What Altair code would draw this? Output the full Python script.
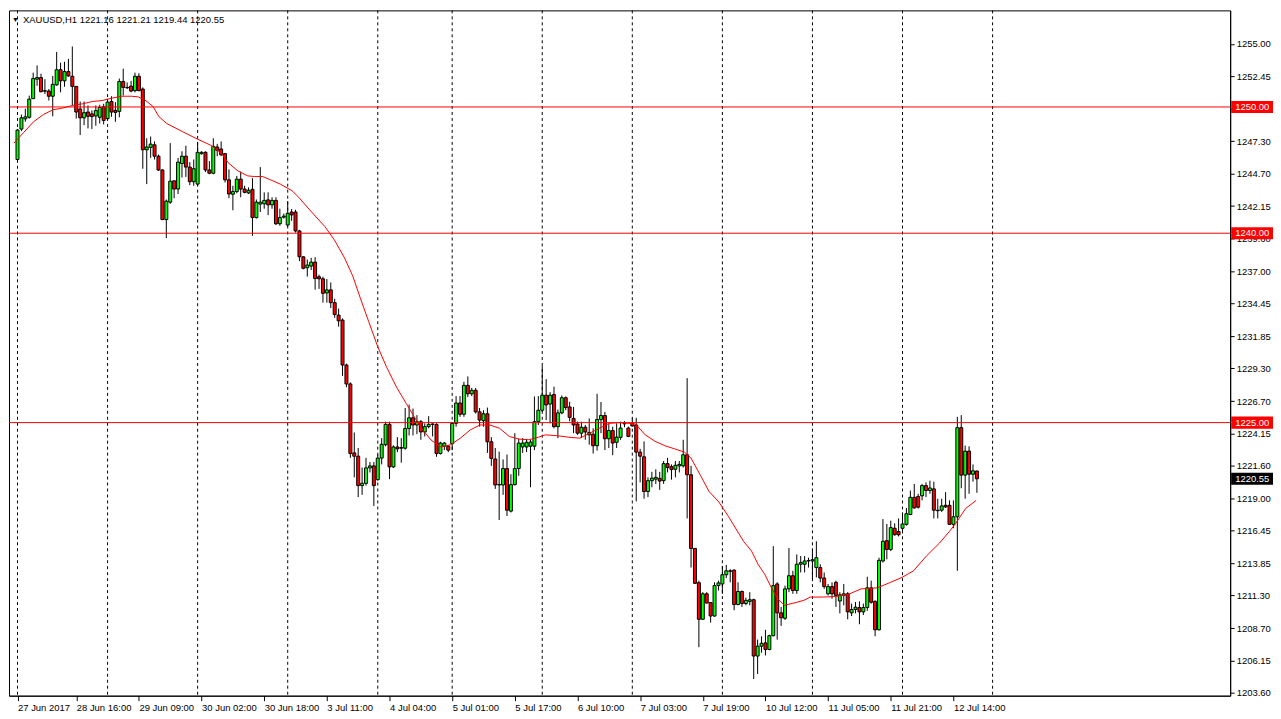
import altair as alt
import pandas as pd

# ---------------- data ----------------
opens = [
    1245.84, 1248.25, 1249.06, 1249.18, 1250.66, 1252.20, 1252.33, 1251.25, 1251.26, 1250.85,
    1251.75, 1252.95, 1252.07, 1252.80, 1252.43, 1251.63, 1249.84, 1249.14, 1249.60, 1249.45,
    1249.29, 1249.18, 1250.02, 1249.08, 1250.43, 1249.73, 1249.65, 1252.02, 1251.55, 1251.65,
    1251.29, 1252.43, 1251.42, 1246.61, 1246.80, 1247.00, 1246.10, 1245.01, 1241.08, 1242.46,
    1244.15, 1243.50, 1245.52, 1246.10, 1245.24, 1244.08, 1243.89, 1246.30, 1246.41, 1245.01,
    1244.75, 1246.83, 1246.67, 1246.30, 1244.23, 1243.09, 1243.30, 1244.28, 1243.50, 1243.19,
    1243.48, 1241.24, 1242.31, 1242.33, 1242.64, 1242.25, 1242.60, 1240.75, 1241.27, 1240.65,
    1241.68, 1241.68, 1240.18, 1238.13, 1237.27, 1237.40, 1237.71, 1236.55, 1236.39, 1235.27,
    1235.51, 1234.50, 1233.51, 1233.12, 1229.56, 1228.06, 1222.60, 1222.34, 1220.01, 1220.19,
    1221.41, 1221.57, 1220.48, 1222.19, 1223.25, 1224.86, 1221.49, 1223.07, 1222.97, 1222.97,
    1224.53, 1225.38, 1224.81, 1225.07, 1224.26, 1224.68, 1224.86, 1224.86, 1222.55, 1223.13,
    1223.13, 1223.33, 1224.94, 1226.55, 1225.66, 1227.95, 1227.28, 1227.56, 1225.85, 1225.15,
    1225.70, 1223.48, 1222.12, 1220.06, 1220.06, 1221.36, 1217.99, 1220.09, 1221.36, 1223.07,
    1223.07, 1223.13, 1223.13, 1225.07, 1225.98, 1227.17, 1226.47, 1227.22, 1224.68, 1225.77,
    1226.97, 1226.24, 1225.33, 1224.89, 1224.16, 1224.63, 1224.03, 1224.08, 1223.17, 1225.25,
    1225.56, 1223.72, 1224.37, 1223.44, 1223.83, 1224.90, 1224.57, 1224.94, 1224.81, 1222.66,
    1222.29, 1219.54, 1220.40, 1220.52, 1220.58, 1220.40, 1221.75, 1221.51, 1221.30, 1221.57,
    1221.57, 1222.45, 1220.87, 1215.03, 1212.32, 1209.42, 1211.44, 1210.74, 1209.68, 1212.09,
    1212.22, 1212.95, 1213.26, 1213.31, 1210.59, 1211.62, 1210.67, 1210.84, 1210.97, 1206.51,
    1207.29, 1207.55, 1207.03, 1208.12, 1212.22, 1209.93, 1209.50, 1211.83, 1212.87, 1211.70,
    1213.78, 1213.78, 1214.04, 1214.04, 1213.52, 1213.52, 1212.69, 1211.44, 1212.01, 1212.35,
    1210.87, 1211.31, 1211.44, 1209.93, 1210.20, 1210.35, 1210.01, 1210.35, 1211.91, 1210.84,
    1208.59, 1214.04, 1215.65, 1214.95, 1216.63, 1216.37, 1216.63, 1216.94, 1217.72, 1219.08,
    1219.15, 1219.20, 1220.01, 1219.62, 1219.75, 1218.06, 1218.06, 1218.45, 1218.45, 1216.94,
    1217.54, 1224.60, 1220.84, 1222.74, 1220.91, 1221.16,
]
highs = [
    1248.25, 1249.40, 1249.86, 1250.90, 1252.72, 1253.29, 1252.64, 1252.20, 1251.42, 1252.46,
    1254.36, 1253.50, 1253.58, 1253.81, 1254.79, 1251.65, 1250.43, 1250.43, 1250.12, 1249.73,
    1250.12, 1250.17, 1250.25, 1250.64, 1250.85, 1250.38, 1252.25, 1253.03, 1251.94, 1252.07,
    1252.72, 1252.67, 1251.55, 1247.52, 1247.66, 1247.27, 1246.23, 1245.06, 1242.67, 1247.14,
    1244.15, 1245.97, 1246.49, 1246.93, 1245.63, 1245.84, 1247.19, 1246.49, 1246.49, 1245.71,
    1247.52, 1247.08, 1247.27, 1246.36, 1245.06, 1243.76, 1244.54, 1244.88, 1243.76, 1243.63,
    1244.36, 1242.67, 1245.24, 1243.24, 1243.24, 1242.85, 1242.85, 1241.94, 1241.55, 1242.54,
    1241.92, 1241.86, 1240.26, 1238.18, 1237.92, 1238.05, 1238.10, 1236.72, 1236.55, 1236.37,
    1236.10, 1234.81, 1234.03, 1233.25, 1229.67, 1228.19, 1224.22, 1222.99, 1221.44, 1222.21,
    1221.88, 1221.88, 1222.47, 1223.77, 1225.07, 1225.07, 1223.20, 1223.85, 1223.77, 1226.16,
    1226.42, 1226.11, 1225.59, 1225.20, 1224.94, 1225.51, 1224.94, 1224.94, 1223.48, 1223.46,
    1223.18, 1225.02, 1227.10, 1227.10, 1228.23, 1228.66, 1227.74, 1227.74, 1226.16, 1225.98,
    1226.19, 1223.85, 1222.99, 1222.70, 1222.08, 1222.47, 1220.91, 1224.16, 1223.72, 1223.77,
    1223.69, 1223.64, 1227.07, 1227.10, 1229.48, 1228.44, 1227.41, 1227.85, 1226.03, 1227.15,
    1227.07, 1226.65, 1226.24, 1225.07, 1225.07, 1224.81, 1225.33, 1224.55, 1227.28, 1226.63,
    1225.85, 1224.94, 1224.68, 1224.94, 1225.07, 1225.12, 1224.68, 1225.33, 1225.38, 1222.92,
    1223.51, 1220.66, 1221.10, 1221.30, 1221.10, 1221.96, 1222.21, 1221.69, 1221.96, 1221.96,
    1223.64, 1228.52, 1221.57, 1215.08, 1212.48, 1211.57, 1211.57, 1210.79, 1212.35, 1212.48,
    1213.65, 1213.73, 1213.39, 1213.39, 1212.35, 1211.70, 1211.13, 1211.57, 1211.05, 1207.81,
    1208.07, 1208.59, 1208.20, 1215.21, 1212.35, 1210.40, 1212.09, 1215.07, 1213.26, 1214.56,
    1214.43, 1214.43, 1214.30, 1214.95, 1215.60, 1213.78, 1213.13, 1212.22, 1212.35, 1212.48,
    1211.57, 1212.22, 1211.57, 1210.66, 1210.79, 1210.84, 1210.66, 1212.79, 1212.48, 1210.92,
    1214.30, 1217.36, 1216.97, 1217.23, 1217.02, 1217.41, 1217.80, 1218.24, 1219.62, 1220.14,
    1219.36, 1220.14, 1220.27, 1220.40, 1220.32, 1218.97, 1218.97, 1219.49, 1218.84, 1218.84,
    1225.46, 1225.59, 1223.17, 1223.12, 1221.69, 1221.21,
]
lows = [
    1245.66, 1248.09, 1248.83, 1249.08, 1250.64, 1251.68, 1251.16, 1251.03, 1250.51, 1249.26,
    1251.68, 1251.16, 1251.60, 1252.40, 1250.12, 1249.08, 1247.78, 1248.56, 1248.30, 1248.25,
    1248.51, 1248.69, 1248.62, 1248.95, 1249.22, 1248.83, 1249.18, 1250.90, 1251.42, 1251.16,
    1251.16, 1251.25, 1245.11, 1243.89, 1245.97, 1245.84, 1244.93, 1241.04, 1239.61, 1242.33,
    1242.77, 1243.11, 1244.41, 1244.46, 1243.81, 1243.76, 1243.76, 1246.23, 1244.85, 1244.67,
    1244.67, 1246.10, 1246.10, 1244.02, 1242.77, 1241.82, 1243.16, 1242.85, 1243.16, 1243.11,
    1239.79, 1241.16, 1241.68, 1241.94, 1241.43, 1241.94, 1240.65, 1240.59, 1241.16, 1240.52,
    1240.98, 1240.05, 1237.79, 1237.14, 1236.57, 1237.09, 1235.53, 1235.59, 1234.50, 1234.50,
    1234.08, 1233.30, 1232.60, 1228.70, 1227.80, 1222.21, 1220.66, 1219.10, 1219.28, 1220.01,
    1221.05, 1218.40, 1220.40, 1221.69, 1223.12, 1220.52, 1221.41, 1222.66, 1221.82, 1222.86,
    1223.98, 1223.98, 1224.08, 1223.64, 1223.90, 1224.55, 1223.90, 1222.29, 1222.47, 1222.82,
    1222.66, 1222.82, 1224.68, 1225.46, 1225.46, 1227.02, 1227.10, 1225.72, 1224.68, 1224.68,
    1222.60, 1221.57, 1219.75, 1217.28, 1219.28, 1217.60, 1217.88, 1220.01, 1220.79, 1222.60,
    1222.66, 1219.88, 1222.82, 1224.81, 1225.85, 1225.20, 1224.94, 1224.55, 1223.77, 1225.66,
    1225.98, 1225.10, 1224.16, 1224.03, 1223.77, 1223.64, 1223.25, 1222.55, 1222.78, 1224.16,
    1222.82, 1222.99, 1222.42, 1222.99, 1223.64, 1224.63, 1223.85, 1224.68, 1218.76, 1220.27,
    1218.97, 1219.10, 1219.88, 1220.14, 1219.67, 1220.14, 1221.05, 1220.48, 1220.66, 1221.05,
    1221.44, 1217.41, 1213.52, 1212.22, 1207.21, 1209.37, 1210.67, 1209.16, 1209.62, 1211.70,
    1211.44, 1212.69, 1212.35, 1210.14, 1210.53, 1210.40, 1210.53, 1210.53, 1204.69, 1205.08,
    1206.77, 1206.56, 1206.97, 1208.07, 1207.81, 1208.90, 1209.37, 1211.57, 1211.44, 1211.44,
    1213.13, 1213.13, 1213.52, 1212.61, 1212.74, 1212.35, 1211.83, 1211.31, 1211.05, 1210.40,
    1209.89, 1210.53, 1209.42, 1209.68, 1209.89, 1209.03, 1209.76, 1210.09, 1210.66, 1208.07,
    1208.53, 1213.91, 1214.17, 1214.82, 1216.04, 1215.98, 1216.24, 1216.84, 1217.67, 1218.19,
    1218.19, 1218.84, 1219.10, 1219.36, 1217.41, 1217.41, 1217.93, 1218.24, 1216.94, 1216.63,
    1213.26, 1219.80, 1218.97, 1219.36, 1220.32, 1219.44,
]
closes = [
    1248.17, 1249.14, 1249.22, 1250.62, 1252.25, 1252.33, 1251.21, 1251.29, 1250.85, 1251.79,
    1252.95, 1252.07, 1252.80, 1252.46, 1251.63, 1249.60, 1249.14, 1249.55, 1249.26, 1249.24,
    1249.71, 1249.96, 1248.93, 1250.38, 1249.60, 1249.57, 1252.02, 1251.55, 1251.52, 1251.26,
    1252.43, 1251.29, 1246.61, 1246.83, 1247.06, 1246.10, 1245.01, 1241.08, 1242.54, 1244.12,
    1243.50, 1245.63, 1246.10, 1245.24, 1244.08, 1245.11, 1246.41, 1246.41, 1245.01, 1244.75,
    1246.88, 1246.57, 1246.22, 1244.23, 1243.11, 1243.30, 1244.28, 1243.50, 1243.24, 1243.40,
    1241.24, 1242.46, 1242.46, 1242.60, 1242.25, 1242.60, 1240.75, 1241.24, 1241.35, 1241.58,
    1241.45, 1240.18, 1238.13, 1237.22, 1237.48, 1237.71, 1236.41, 1236.39, 1235.24, 1235.51,
    1234.50, 1233.56, 1233.06, 1229.56, 1228.06, 1222.55, 1222.34, 1220.01, 1220.19, 1221.41,
    1221.57, 1220.01, 1222.19, 1223.28, 1224.86, 1221.49, 1223.07, 1222.92, 1223.02, 1224.53,
    1225.38, 1224.81, 1225.07, 1224.26, 1224.68, 1224.86, 1224.89, 1222.55, 1223.38, 1223.38,
    1222.82, 1224.94, 1226.55, 1225.66, 1227.95, 1227.28, 1227.56, 1225.85, 1225.20, 1225.70,
    1223.48, 1222.16, 1220.06, 1220.10, 1221.36, 1218.06, 1220.09, 1221.36, 1223.38, 1223.38,
    1223.44, 1223.46, 1225.07, 1225.98, 1227.17, 1226.40, 1227.17, 1224.68, 1225.77, 1226.97,
    1226.19, 1225.41, 1224.81, 1224.16, 1224.63, 1224.26, 1224.22, 1223.17, 1225.25, 1225.56,
    1223.72, 1224.37, 1223.38, 1223.85, 1224.57, 1224.94, 1223.90, 1224.73, 1222.66, 1222.34,
    1219.54, 1220.40, 1220.60, 1220.66, 1220.37, 1221.75, 1221.44, 1221.28, 1221.62, 1221.69,
    1222.45, 1220.87, 1215.03, 1212.27, 1209.42, 1211.44, 1210.71, 1209.68, 1212.09, 1212.30,
    1212.95, 1213.26, 1213.22, 1210.59, 1211.62, 1210.67, 1210.92, 1210.97, 1206.51, 1207.29,
    1207.52, 1207.03, 1208.12, 1212.09, 1209.93, 1209.54, 1211.83, 1212.87, 1211.70, 1213.78,
    1213.91, 1214.04, 1214.08, 1214.14, 1214.30, 1212.69, 1212.01, 1212.01, 1211.44, 1211.31,
    1211.36, 1211.44, 1210.01, 1210.20, 1210.38, 1210.01, 1210.35, 1211.91, 1210.77, 1208.59,
    1214.09, 1215.60, 1214.95, 1216.68, 1216.12, 1216.12, 1216.97, 1217.78, 1219.08, 1218.24,
    1218.30, 1220.01, 1219.62, 1219.82, 1218.06, 1218.02, 1218.40, 1218.32, 1216.94, 1217.54,
    1224.60, 1220.84, 1222.74, 1220.91, 1221.18, 1220.55,
]

# moving average (red curve), read at bar positions
ma_idx = [-0.9, 1.6, 4.1, 6.6, 9.1, 11.6, 14.1, 16.6, 19.1, 21.6, 24.1, 26.6, 29.1, 30.8, 32.5,
          34.6, 36.1, 38.1, 42.1, 45.5, 49.6, 52.1, 53.8, 56.3, 58.8, 60.5, 62.6, 64.6, 67.1, 70.1,
          71.8, 75.1, 78.5, 80.9, 83.5, 85.6, 87.6, 89.7, 91.95, 94.3, 96.8, 99.3, 101.8, 103.5,
          105.6, 108.1, 110.6, 113.1, 115.6, 118.1, 120.6, 123.1, 125.6, 128.1, 130.6, 133.1,
          134.8, 138.1, 141.1, 143.6, 146.1, 148.6, 151.1, 153.6, 156.1, 157.8, 160.3, 162.8,
          165.3, 167.8, 170.3, 171.95, 174.45, 176.6, 179.1, 181.6, 185.4, 187.45, 189.1, 190.8,
          192.45, 194.1, 195.8, 198.3, 200.8, 202.45, 205.8, 209.1, 212.1, 215.45, 219.6, 222.95,
          225.9, 228.8, 232.1, 235.45, 237.95, 239.6, 242.1, 244.8]
ma_val = [1247.14, 1247.99, 1248.83, 1249.40, 1249.78, 1249.92, 1250.12, 1250.25, 1250.43, 1250.51,
          1250.70, 1250.85, 1250.85, 1250.80, 1250.56, 1250.04, 1249.24, 1248.69, 1248.05, 1247.52,
          1246.93, 1246.30, 1245.58, 1244.93, 1244.54, 1244.49, 1244.49, 1244.23, 1243.89, 1243.37,
          1242.85, 1241.68, 1240.52, 1239.48, 1238.05, 1236.62, 1234.81, 1232.99, 1231.04, 1229.36,
          1227.80, 1226.50, 1225.20, 1224.42, 1223.62, 1223.07, 1223.25, 1223.77, 1224.42, 1224.81,
          1224.81, 1224.55, 1223.90, 1223.69, 1223.64, 1223.85, 1224.03, 1223.95, 1223.83, 1223.77,
          1224.16, 1224.55, 1224.94, 1225.00, 1224.94, 1224.89, 1224.03, 1223.52, 1223.17, 1222.92,
          1222.66, 1222.21, 1220.79, 1219.54, 1218.71, 1217.54, 1215.60, 1214.82, 1213.78, 1213.00,
          1211.96, 1211.05, 1210.53, 1210.71, 1210.92, 1211.18, 1211.18, 1211.23, 1211.39, 1211.83,
          1211.91, 1212.35, 1212.74, 1213.26, 1214.43, 1215.46, 1216.37, 1217.02, 1218.19, 1218.84]

grid_idx = [0, 23, 46, 69, 92, 111, 134, 157, 180, 203, 226, 249]
level_prices = [1250.00, 1240.00, 1225.00]
last_price = 1220.55

xtick_idx = [0, 15, 31, 47, 63, 79, 95, 111, 127, 143, 159, 175, 191, 207, 223, 239]
xtick_labels = ["27 Jun 2017", "28 Jun 16:00", "29 Jun 09:00", "30 Jun 02:00", "30 Jun 18:00",
                "3 Jul 11:00", "4 Jul 04:00", "5 Jul 01:00", "5 Jul 17:00", "6 Jul 10:00",
                "7 Jul 03:00", "7 Jul 19:00", "10 Jul 12:00", "11 Jul 05:00", "11 Jul 21:00",
                "12 Jul 14:00"]
ytick_values = [1203.60, 1206.15, 1208.70, 1211.30, 1213.85, 1216.45, 1219.00, 1221.60, 1224.15,
                1226.70, 1229.30, 1231.85, 1234.45, 1237.00, 1239.60, 1242.15, 1244.70, 1247.30,
                1249.85, 1252.45, 1255.00]

symbol_name = "XAUUSD,H1"

# ---------------- chart ----------------
W, H = 1226, 688
FONT = "Liberation Sans"
FS = 9.5

n = len(opens)
candles = pd.DataFrame({"i": list(range(n)), "open": opens, "high": highs,
                        "low": lows, "close": closes})
candles["dir"] = ["up" if c >= o else "down" for o, c in zip(opens, closes)]

xscale = alt.Scale(domain=[-0.9, 308.4], nice=False, zero=False)
yscale = alt.Scale(domain=[1203.37, 1257.65], nice=False, zero=False)

label_expr = ("[" + ",".join("'" + s + "'" for s in xtick_labels) + "][indexof(["
              + ",".join(str(v) for v in xtick_idx) + "], datum.value)]")

xaxis = alt.Axis(values=xtick_idx, labelExpr=label_expr, title=None, grid=False,
                 tickSize=5, tickColor="black", domainColor="black", labelAlign="left",
                 labelPadding=2, labelFont=FONT, labelFontSize=FS, labelColor="black",
                 labelOverlap=False, labelFlush=False, labelBound=False)
yaxis = alt.Axis(orient="right", values=ytick_values, format=".2f", title=None, grid=False,
                 tickSize=4, tickColor="black", domainColor="black", labelPadding=2,
                 labelFont=FONT, labelFontSize=FS, labelColor="black",
                 labelOverlap=False, labelFlush=False, labelBound=False)

X = lambda f: alt.X(f, scale=xscale, axis=xaxis)
Y = lambda f: alt.Y(f, scale=yscale, axis=yaxis)

grid = alt.Chart(pd.DataFrame({"i": grid_idx})).mark_rule(
    color="black", strokeWidth=1, strokeDash=[3, 3]).encode(x=X("i:Q"))

wicks = alt.Chart(candles).mark_rule(color="black", strokeWidth=1).encode(
    x=X("i:Q"), y=Y("low:Q"), y2="high:Q")

bodies = alt.Chart(candles).mark_bar(size=3, stroke="black", strokeWidth=1).encode(
    x=X("i:Q"), y=Y("open:Q"), y2="close:Q",
    fill=alt.Fill("dir:N", scale=alt.Scale(domain=["up", "down"], range=["#00ff00", "#ff0000"]),
                  legend=None))

levels = alt.Chart(pd.DataFrame({"p": level_prices})).mark_rule(
    color="#ff0000", strokeWidth=1).encode(y=Y("p:Q"))

ma = alt.Chart(pd.DataFrame({"i": ma_idx, "p": ma_val})).mark_line(
    color="#ff0000", strokeWidth=1).encode(x=X("i:Q"), y=Y("p:Q"))

tags = pd.DataFrame({
    "p": level_prices + [last_price],
    "label": ["%.2f" % v for v in level_prices + [last_price]],
    "bg": ["#ff0000"] * len(level_prices) + ["#000000"],
})
boxes = alt.Chart(tags).mark_point(
    shape="M-1,-0.29L1,-0.29L1,0.29L-1,0.29Z", size=1764, filled=True, opacity=1,
    strokeWidth=0).encode(x=alt.value(W + 22), y=Y("p:Q"), color=alt.Color("bg:N", scale=None))
tagtext = alt.Chart(tags).mark_text(
    align="left", baseline="middle", font=FONT, fontSize=FS, color="white").encode(
    x=alt.value(W + 5), y=Y("p:Q"), text="label:N")

title_txt = "%s  %.2f %.2f %.2f %.2f" % (symbol_name, opens[-1], highs[-1], lows[-1], closes[-1])
title_df = pd.DataFrame({"t": [title_txt], "tri": ["\u25bc"]})
title = alt.Chart(title_df).mark_text(
    align="left", baseline="middle", font=FONT, fontSize=FS, color="black").encode(
    x=alt.value(14), y=alt.value(10), text="t:N")
tri = alt.Chart(title_df).mark_text(
    align="left", baseline="middle", font=FONT, fontSize=7, color="black").encode(
    x=alt.value(3), y=alt.value(10), text="tri:N")

chart = alt.layer(grid, wicks, bodies, levels, ma, boxes, tagtext, tri, title).properties(
    width=W, height=H, padding={"left": 0, "top": 0, "right": 0, "bottom": 0},
    background="white",
).configure_view(stroke="black", strokeWidth=1)

chart.save("out.html", embed_options={"renderer": "svg", "actions": False})
